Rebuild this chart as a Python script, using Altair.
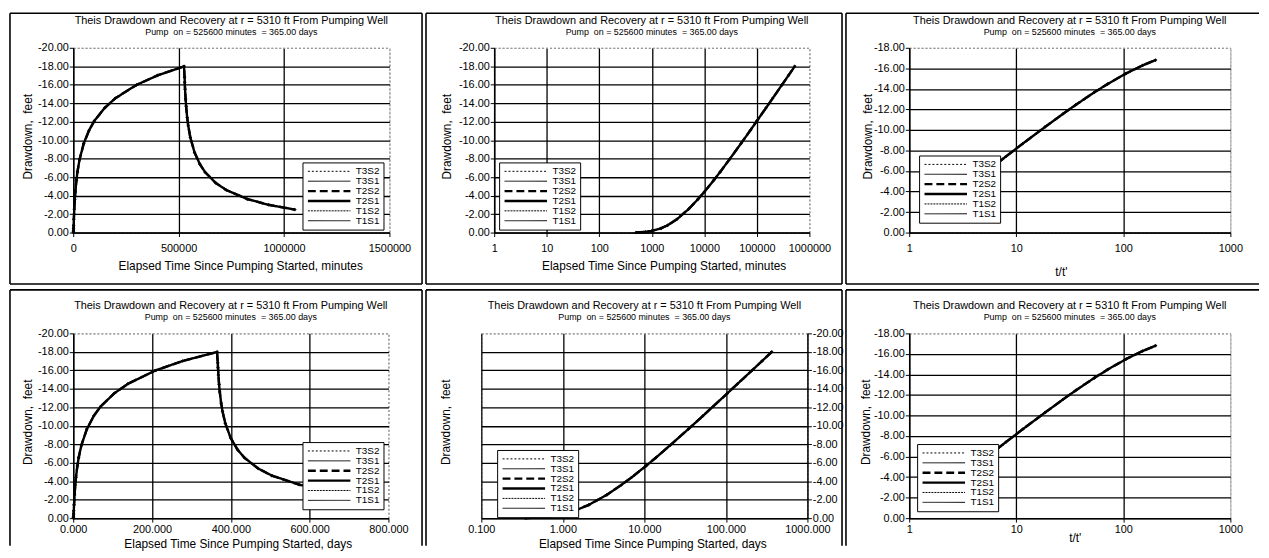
import altair as alt
import pandas as pd

FONT = "Liberation Sans"
PUMP_ON_MINUTES = 525600
MINUTES_PER_DAY = 1440

TITLE = "Theis Drawdown and Recovery at r = 5310 ft From Pumping Well"
SUBTITLE = "Pump\u00a0 on = 525600 minutes\u00a0 = 365.00 days"
Y_TITLE = "Drawdown,\u00a0 feet"
X_TITLE_MIN = "Elapsed Time Since Pumping Started, minutes"
X_TITLE_DAY = "Elapsed Time Since Pumping Started, days"
X_TITLE_RATIO = "t/t'"

series_names = ["T3S2", "T3S1", "T2S2", "T2S1", "T1S2", "T1S1"]
series_dash = [[2, 2], [1, 0], [8, 4], [1, 0], [2, 1], [1, 0]]
series_width = [1, 1, 2.4, 2.4, 1, 1]

# pumping period: elapsed minutes and drawdown (ft)
pump_minutes = [500, 750, 1000, 1500, 2000, 3000, 5000, 7500, 10000, 15000, 20000,
                30000, 50000, 75000, 100000, 150000, 200000, 300000, 400000, 525600]
pump_drawdown = [-0.01, -0.07, -0.18, -0.46, -0.79, -1.44, -2.53, -3.59, -4.40, -5.64, -6.56,
                 -7.91, -9.65, -11.06, -12.08, -13.51, -14.54, -15.98, -17.01, -17.99]

# recovery period: minutes since pump stopped and residual drawdown (ft)
recovery_minutes = [2641, 3500, 5000, 7500, 10000, 15000, 20000, 30000, 50000, 75000,
                    100000, 150000, 200000, 300000, 400000, 525600]
recovery_drawdown = [-16.80, -16.28, -15.50, -14.46, -13.66, -12.45, -11.56, -10.28, -8.67, -7.41,
                     -6.54, -5.38, -4.61, -3.63, -3.01, -2.49]

x_ticks_min_lin = [0, 500000, 1000000, 1500000]
x_ticks_min_log = [1, 10, 100, 1000, 10000, 100000, 1000000]
x_ticks_day_lin = [0, 200, 400, 600, 800]
x_ticks_day_log = [0.1, 1, 10, 100, 1000]
x_ticks_ratio = [1, 10, 100, 1000]
y_ticks_20 = [0, -2, -4, -6, -8, -10, -12, -14, -16, -18, -20]
y_ticks_18 = [0, -2, -4, -6, -8, -10, -12, -14, -16, -18]

rows = []
for s in series_names:
    for t, d in zip(pump_minutes, pump_drawdown):
        rows.append({"series": s, "phase": "pump", "minutes": t,
                     "days": t / MINUTES_PER_DAY, "ratio": None, "drawdown": d})
    for tp, d in zip(recovery_minutes, recovery_drawdown):
        t = PUMP_ON_MINUTES + tp
        rows.append({"series": s, "phase": "recovery", "minutes": t,
                     "days": t / MINUTES_PER_DAY, "ratio": t / tp, "drawdown": d})
df_all = pd.DataFrame(rows)
df_pump = df_all[df_all["phase"] == "pump"].drop(columns=["ratio"])
df_rec = df_all[df_all["phase"] == "recovery"]

Y_LABEL_EXPR = "replace(format(datum.value, '.2f'), '\u2212', '-')"


def frame(edges):
    return [
        alt.Chart(alt.Data(values=[{"edge": i}]))
        .mark_rule(color="black", strokeWidth=1.6)
        .encode(x=alt.value(x1), x2=alt.value(x2), y=alt.value(y1), y2=alt.value(y2))
        for i, (x1, y1, x2, y2) in enumerate(edges)
    ]


def panel(data, xfield, xtype, xdomain, xticks, xfmt, xtitle, ymin, yticks, w, h,
          edges, leg_xy, ytitle_x, xtitle_dx, xtitle_y, xlabel_pad, title_offset,
          y_right=False):
    xscale = alt.Scale(type=xtype, domain=xdomain, nice=False)
    yscale = alt.Scale(domain=[ymin, 0], reverse=True, nice=False, zero=False)
    xaxis = alt.Axis(
        values=xticks, format=xfmt, title=xtitle, labelFlush=False, labelOverlap=False,
        labelPadding=xlabel_pad, titleX=w / 2 + xtitle_dx, titleY=xtitle_y,
        titleBaseline="middle", titleAlign="center",
        gridColor={"condition": {"test": f"datum.value == {xdomain[1]}", "value": "#9a9a9a"}, "value": "black"},
        gridDash={"condition": {"test": f"datum.value == {xdomain[1]}", "value": [2, 2]}, "value": []},
    )
    yaxis = alt.Axis(
        values=yticks, labelExpr=Y_LABEL_EXPR, title=Y_TITLE,
        orient="right" if y_right else "left", labelOverlap=False, labelFlush=False,
        titleX=ytitle_x, titleY=h / 2 - 4, titleAngle=270, titleAlign="center",
        titleBaseline="middle",
        gridColor={"condition": {"test": f"datum.value == {ymin}", "value": "#9a9a9a"}, "value": "black"},
        gridDash={"condition": {"test": f"datum.value == {ymin}", "value": [2, 2]}, "value": []},
    )
    legend = alt.Legend(
        orient="none", legendX=leg_xy[0], legendY=leg_xy[1], title=None,
        symbolType="stroke", symbolSize=1849, symbolStrokeColor="black",
        labelFont=FONT, labelFontSize=10, labelColor="black", labelOffset=4,
        fillColor="white", strokeColor="black", padding=4, rowPadding=0, clipHeight=10,
    )
    enc_x = alt.X(f"{xfield}:Q", scale=xscale, axis=xaxis)
    enc_y = alt.Y("drawdown:Q", scale=yscale, axis=yaxis)
    lines = alt.Chart(data).mark_line(color="black").encode(
        x=enc_x, y=enc_y,
        strokeDash=alt.StrokeDash("series:N", scale=alt.Scale(domain=series_names, range=series_dash), legend=legend),
        strokeWidth=alt.StrokeWidth("series:N", scale=alt.Scale(type="ordinal", domain=series_names, range=series_width), legend=legend),
    )
    points = (
        alt.Chart(data).transform_filter(alt.datum.series == "T3S2")
        .mark_point(shape="diamond", filled=True, size=14, color="black", opacity=1)
        .encode(x=enc_x, y=enc_y)
    )
    return alt.layer(lines, points, *frame(edges)).properties(
        width=w, height=h,
        title=alt.TitleParams(
            text=TITLE, subtitle=SUBTITLE, font=FONT, fontSize=11, fontWeight="normal", color="black",
            subtitleFont=FONT, subtitleFontSize=9, subtitleColor="black", subtitlePadding=2,
            anchor="middle", frame="group", offset=title_offset,
        ),
    )


H = 187
T1, B1 = -35, 239
T2, B2 = -44, 215

p1 = panel(df_all, "minutes", "linear", [0, 1500000], x_ticks_min_lin, "d", X_TITLE_MIN, -20, y_ticks_20,
           320, H, [(-64, T1, 353, T1), (-64, B1, 353, B1), (-64, T1, -64, B1), (353, T1, 353, B1)],
           (232, 116), -46, 9, 33, 6, -25)
p2 = panel(df_pump, "minutes", "log", [1, 1000000], x_ticks_min_log, "d", X_TITLE_MIN, -20, y_ticks_20,
           319, H, [(-69, T1, 352, T1), (-69, B1, 352, B1), (-69, T1, -69, B1), (352, T1, 352, B1)],
           (5, 116), -48, 12, 33, 6, -25)
p3 = panel(df_rec, "ratio", "log", [1, 1000], x_ticks_ratio, "d", X_TITLE_RATIO, -18, y_ticks_18,
           325, H, [(-64, T1, 354, T1), (-64, B1, 354, B1), (-64, T1, -64, B1)],
           (10, 109), -42, -9, 39, 6, -25)
p4 = panel(df_all, "days", "linear", [0, 800], x_ticks_day_lin, ".3f", X_TITLE_DAY, -20, y_ticks_20,
           319, H, [(-64, T2, 353, T2), (-64, T2, -64, B2), (353, T2, 353, B2)],
           (232, 110), -46, 7, 26, 2, -33)
p5 = panel(df_pump, "days", "log", [0.1, 1000], x_ticks_day_log, ".3f", X_TITLE_DAY, -20, y_ticks_20,
           330, H, [(-56, T2, 365, T2), (-56, T2, -56, B2), (365, T2, 365, B2)],
           (16, 118), -366, 8, 26, 2, -33, y_right=True)
p6 = panel(df_rec, "ratio", "log", [1, 1000], x_ticks_ratio, "d", X_TITLE_RATIO, -18, y_ticks_18,
           325, H, [(-64, T2, 354, T2), (-64, T2, -64, B2)],
           (8, 112), -44, 5, 20, 2, -33)

RES = dict(strokeDash="independent", strokeWidth="independent")
row1 = alt.hconcat(p1, p2, p3, spacing=0).resolve_scale(**RES).resolve_legend(**RES)
row2 = alt.hconcat(p4, p5, p6, spacing=0).resolve_scale(**RES).resolve_legend(**RES)

chart = (
    alt.vconcat(row1, row2, spacing=2)
    .resolve_scale(**RES)
    .resolve_legend(**RES)
    .properties(padding=0, background="white")
    .configure_view(stroke="#9a9a9a", strokeWidth=1, strokeDash=[2, 2])
    .configure_axis(
        labelFont=FONT, labelFontSize=11, labelColor="black",
        titleFont=FONT, titleFontSize=12, titleFontWeight="normal", titleColor="black",
        tickColor="black", tickSize=4, tickWidth=1,
        domainColor="black", domainWidth=1.5,
        gridWidth=1.3, gridOpacity=1,
    )
    .configure_axisY(labelPadding=1)
)

chart.save("out.html", embed_options={"renderer": "svg", "actions": False})
